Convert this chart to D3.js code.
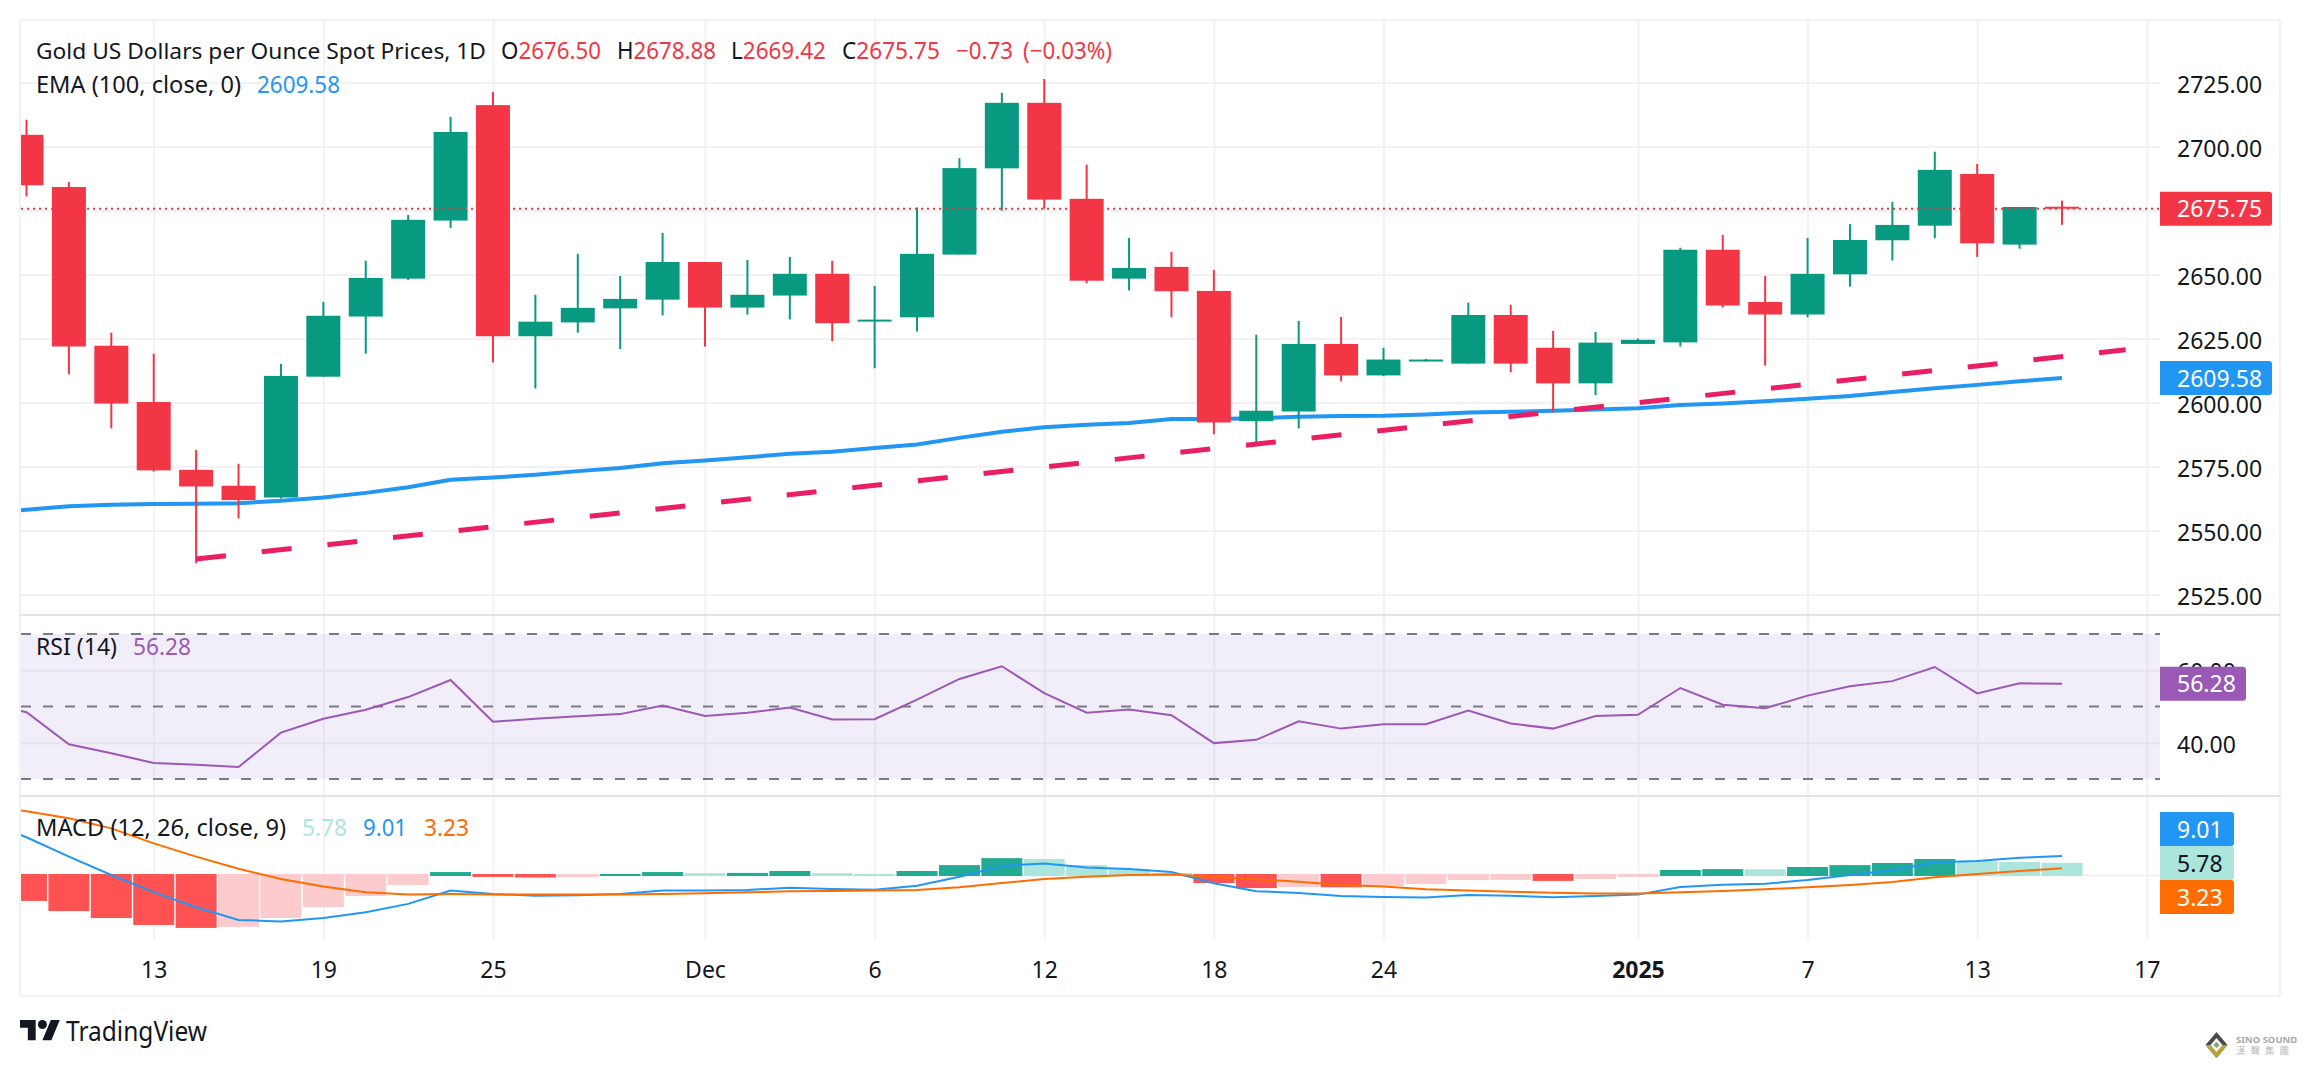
<!DOCTYPE html>
<html>
<head>
<meta charset="utf-8">
<script src="https://cdnjs.cloudflare.com/ajax/libs/d3/7.8.5/d3.min.js"></script>
<style>
	html, body { margin: 0; padding: 0; background: #fff; }
	svg { display: block; }
	text { font-family: "Noto Sans", sans-serif; }
</style>
</head>
<body>
<div id="chart"></div>
<script>
// candles, one per trading day (8 Nov 2024 - 15 Jan 2025)
var opens = [2704.6,2684.2,2622.2,2600.2,2573.7,2567.5,2562.9,2610.1,2633.6,2648.4,2671.1,2716.2,2625.9,2631.3,2636.8,2640.2,2654.9,2637.1,2641.8,2650.3,2631.7,2633.3,2657.8,2691.5,2717.1,2679.6,2648.4,2653,2643.6,2592.7,2596.5,2622.9,2610.6,2616.3,2615.2,2634.2,2621.4,2607.5,2622.9,2623.5,2659.7,2639.3,2634.4,2650.1,2663.4,2669.1,2689.3,2661.7,2676.5];
var highs = [2710.5,2686.2,2627.3,2619.1,2581.5,2576.1,2615.1,2639.3,2655.4,2673.3,2711.6,2721.3,2642.1,2658.1,2649.5,2666.3,2654.9,2655.7,2656.9,2655.4,2645.6,2676.2,2695.5,2721,2726.4,2692.9,2664.3,2658.9,2651.8,2626.5,2631.9,2633.4,2621.4,2617,2639,2638.2,2628,2627.6,2625,2660.5,2665.5,2649.5,2664.3,2669.7,2678.4,2698,2693.2,2676.4,2678.88];
var lows = [2680.5,2611,2589.9,2573,2537.2,2554.7,2562.5,2610,2619.1,2647.9,2668.2,2615.7,2605.5,2627.3,2620.9,2634,2621.9,2634.4,2632.5,2623.9,2613.4,2627.7,2657.8,2675,2675.7,2646.6,2643.8,2633.3,2587.6,2583.6,2589.9,2608.3,2610.3,2616,2615.2,2611.8,2596.2,2602.9,2622.9,2621.9,2637.1,2614.4,2633.3,2645.3,2655.5,2664.2,2656.9,2660.1,2669.42];
var closes = [2684.9,2621.9,2599.6,2573.5,2567.2,2561.9,2610.4,2633.9,2648.7,2671.4,2705.7,2625.9,2631.6,2637,2640.5,2654.9,2637.1,2642.1,2650.3,2631,2632.4,2658.1,2691.6,2717.1,2679.3,2647.6,2652.6,2643.5,2592.2,2596.8,2622.9,2610.6,2616.8,2616.8,2634.2,2615.2,2607.5,2623.4,2624.5,2659.7,2637.9,2634.4,2650.3,2663.5,2669.4,2690.9,2662.2,2676.4,2675.75];

// the line series start one bar before the first candle, that bar falls off the left edge
var ema = [2556.7,2558.1,2559.5,2560.1,2560.4,2560.5,2560.7,2561.6,2562.9,2564.7,2566.9,2569.8,2570.7,2571.8,2573.2,2574.4,2576.3,2577.4,2578.6,2580,2580.8,2582.2,2583.6,2586.2,2588.6,2590.3,2591.3,2592,2593.6,2593.6,2593.9,2594.4,2594.7,2594.8,2595.3,2596.1,2596.4,2596.8,2597.3,2597.8,2599,2599.6,2600.5,2601.5,2602.6,2604.1,2605.6,2606.9,2608.3,2609.58];
var rsi = [51,48.4,39.6,37.1,34.4,33.9,33.3,42.8,46.6,49.1,52.6,57.3,45.8,46.6,47.3,47.9,50.3,47.4,48.3,49.7,46.4,46.5,51.9,57.6,61.1,53.7,48.3,49.2,47.6,39.9,40.8,45.9,43.9,45.1,45.1,48.9,45.3,43.9,47.4,47.7,55.1,50.5,49.5,53,55.6,57,60.9,53.6,56.4,56.28];
var macd = [25.7,17.9,8.7,0,-8.1,-15.3,-21.3,-22,-20.4,-17.7,-13.7,-7.4,-9,-9.8,-9.6,-9,-7.4,-7.4,-7.1,-6,-6.6,-7,-5.1,-0.8,4.3,5.5,3.6,2.8,1.4,-3.9,-7.7,-8.5,-10,-10.4,-10.7,-9.5,-9.8,-10.6,-10,-9.3,-5.7,-4.6,-4.1,-2.4,0,2.2,6,6.6,8.2,9.01];
var signal = [33.4,30.2,26.9,22.1,15,8.7,3,-1.9,-5.5,-8.2,-9.2,-9,-9.2,-9.3,-9.3,-9.2,-9,-8.7,-8.2,-7.7,-7.6,-7.4,-7.1,-5.8,-3.8,-1.9,-0.8,0,0.2,-0.8,-2,-3.2,-4.7,-5.5,-6.8,-7.3,-7.9,-8.4,-8.8,-8.8,-8.2,-7.6,-6.8,-5.8,-4.7,-3.3,-1.1,0.5,1.9,3.23];
var hist = [-12.3,-17.1,-20.4,-23.7,-25.1,-24.6,-20.4,-15.2,-10,-4.7,1.4,-0.9,-1.2,-1,0.5,1.4,0.9,1,1.9,0.9,0.5,1.9,4.7,8,7.6,4.7,2.8,1,-3.8,-6.2,-5.7,-5.8,-5.2,-4.3,-2.4,-2.3,-2.8,-1.9,-0.9,2.4,2.8,2.7,3.8,4.7,5.7,7.6,6.6,6.2,5.78];

// trend line, bar index and price at both ends
var trendBars = [4, 49.5];
var trendPrices = [2538.9, 2620.6];

var priceTicks = [2525,2550,2575,2600,2625,2650,2675,2700,2725];
var rsiTicks = [40,60];
var rsiLevels = [30,50,70];
var timeTicks = [3,7,11,16,20,24,28,32,38,42,46,50];
var timeLabels = ['13','19','25','Dec','6','12','18','24','2025','7','13','17'];

var UP = '#089981', DOWN = '#F23645', INK = '#131722', GRID = '#F2F2F4', LINE = '#E0E3EB';
var PLOT_L = 21, PLOT_R = 2160, OUT_R = 2280;

var svg = d3.select('#chart').append('svg').attr('width', 2304).attr('height', 1066);

var x = d3.scaleLinear().domain([0, 48]).range([26.5, 2062]);
var yPrice = d3.scaleLinear().domain([2525, 2725]).range([594.5, 82.6]);
var yRsi = d3.scaleLinear().domain([30, 70]).range([779, 634]);
var yMacd = d3.scaleLinear().domain([0, 9.01]).range([875, 856]);

var defs = svg.append('defs');
function clip(id, top, bottom) {
	defs.append('clipPath').attr('id', id).append('rect')
		.attr('x', PLOT_L).attr('y', top).attr('width', PLOT_R - PLOT_L).attr('height', bottom - top);
}
clip('clip-main', 21, 614);
clip('clip-rsi', 616, 795);
clip('clip-macd', 797, 940);

// frame and separators
svg.append('rect').attr('x', 20).attr('y', 20).attr('width', OUT_R - 20).attr('height', 976)
	.attr('fill', 'none').attr('stroke', GRID).attr('stroke-width', 2);

// grid lines, all from axes
function hGrid(scale, ticks) {
	var g = svg.append('g').attr('transform', 'translate(' + PLOT_R + ',0)')
		.call(d3.axisLeft(scale).tickValues(ticks).tickSize(PLOT_R - PLOT_L).tickFormat(''));
	g.select('.domain').remove();
	g.selectAll('line').attr('stroke', GRID).attr('stroke-width', 2);
}
var vg = svg.append('g').attr('transform', 'translate(0,940)')
	.call(d3.axisBottom(x).tickValues(timeTicks).tickSize(-919).tickFormat(''));
vg.select('.domain').remove();
vg.selectAll('line').attr('stroke', GRID).attr('stroke-width', 2);
hGrid(yPrice, priceTicks);
hGrid(yRsi, rsiTicks);
hGrid(yMacd, [0]);

[615, 796].forEach(function (y) {
	svg.append('line').attr('x1', 20).attr('x2', OUT_R).attr('y1', y).attr('y2', y)
		.attr('stroke', LINE).attr('stroke-width', 2);
});

//main pane
var main = svg.append('g').attr('clip-path', 'url(#clip-main)');

var emaLine = d3.line().x(function (d, i) { return x(i - 1); }).y(function (d) { return yPrice(d); });
main.append('path').attr('d', emaLine(ema)).attr('fill', 'none').attr('stroke', '#2196F3').attr('stroke-width', 4);

var bars = main.selectAll('g.candle').data(opens).enter().append('g').attr('class', 'candle');
function candleColor(d, i) { return closes[i] >= opens[i] ? UP : DOWN; }
bars.append('rect')
	.attr('x', function (d, i) { return x(i) - 1; })
	.attr('width', 2)
	.attr('y', function (d, i) { return yPrice(highs[i]); })
	.attr('height', function (d, i) { return yPrice(lows[i]) - yPrice(highs[i]); })
	.attr('fill', candleColor);
bars.append('rect')
	.attr('x', function (d, i) { return x(i) - 17; })
	.attr('width', 34)
	.attr('y', function (d, i) { return yPrice(Math.max(opens[i], closes[i])); })
	.attr('height', function (d, i) { return Math.max(2, Math.abs(yPrice(opens[i]) - yPrice(closes[i]))); })
	.attr('fill', candleColor);

main.append('line')
	.attr('x1', x(trendBars[0])).attr('x2', x(trendBars[1]))
	.attr('y1', yPrice(trendPrices[0])).attr('y2', yPrice(trendPrices[1]))
	.attr('stroke', '#E91E63').attr('stroke-width', 5).attr('stroke-dasharray', '30 36');

main.append('line')
	.attr('x1', PLOT_L).attr('x2', PLOT_R)
	.attr('y1', yPrice(closes[48])).attr('y2', yPrice(closes[48]))
	.attr('stroke', DOWN).attr('stroke-width', 2).attr('stroke-dasharray', '2 4');

//rsi pane
var rsiPane = svg.append('g').attr('clip-path', 'url(#clip-rsi)');
rsiPane.append('rect').attr('x', PLOT_L).attr('width', PLOT_R - PLOT_L)
	.attr('y', yRsi(70)).attr('height', yRsi(30) - yRsi(70))
	.attr('fill', 'rgba(126,87,194,0.1)');
rsiPane.selectAll('line.level').data(rsiLevels).enter().append('line').attr('class', 'level')
	.attr('x1', PLOT_L).attr('x2', PLOT_R)
	.attr('y1', function (d) { return yRsi(d); }).attr('y2', function (d) { return yRsi(d); })
	.attr('stroke', '#787B86').attr('stroke-width', 2).attr('stroke-dasharray', '10 12');
var rsiLine = d3.line().x(function (d, i) { return x(i - 1); }).y(function (d) { return yRsi(d); });
rsiPane.append('path').attr('d', rsiLine(rsi)).attr('fill', 'none').attr('stroke', '#9B59B6').attr('stroke-width', 2);

//macd pane
var macdPane = svg.append('g').attr('clip-path', 'url(#clip-macd)');

// shade follows the direction of the bar: growing = strong colour, shrinking = light colour
function histColor(d, i) {
	var growing = i === 0 || (d >= 0 ? d > hist[i - 1] : d < hist[i - 1]);
	if (d >= 0) return growing ? '#22AB94' : '#ACE5DC';
	return growing ? '#FF5252' : '#FCCBCD';
}
macdPane.selectAll('rect.hist').data(hist).enter().append('rect').attr('class', 'hist')
	.attr('x', function (d, i) { return x(i) - 20.5; })
	.attr('width', 41)
	.attr('y', function (d) { return d >= 0 ? yMacd(d) : yMacd(0) - 1; })
	.attr('height', function (d) { return Math.abs(yMacd(d) - yMacd(0)) + 1; })
	.attr('fill', histColor);

function macdLine(vals, color) {
	var l = d3.line().x(function (d, i) { return x(i - 1); }).y(function (d) { return yMacd(d); });
	macdPane.append('path').attr('d', l(vals)).attr('fill', 'none').attr('stroke', color).attr('stroke-width', 2);
}
macdLine(macd, '#2196F3');
macdLine(signal, '#FF6D00');

//axes labels
function valueAxis(scale, ticks) {
	var g = svg.append('g').attr('transform', 'translate(' + PLOT_R + ',0)')
		.call(d3.axisRight(scale).tickValues(ticks).tickSize(0).tickPadding(17).tickFormat(d3.format('.2f')));
	g.select('.domain').remove();
	g.selectAll('text').attr('fill', INK).attr('dy', '0.42em').style('font-size', '23px');
}
valueAxis(yPrice, priceTicks);
valueAxis(yRsi, rsiTicks);

var timeAxis = svg.append('g').attr('transform', 'translate(0,962)')
	.call(d3.axisBottom(x).tickValues(timeTicks).tickSize(0).tickPadding(0)
		.tickFormat(function (d, i) { return timeLabels[i]; }));
timeAxis.select('.domain').remove();
timeAxis.selectAll('text').attr('fill', INK).style('font-size', '23px')
	.style('font-weight', function (d, i) { return timeLabels[i] === '2025' ? 700 : 400; });

//value badges on the right side
function badge(top, bottom, right, fill, label, color) {
	var r = 3, p = d3.path();
	p.moveTo(PLOT_R, top);
	p.lineTo(right - r, top);
	p.quadraticCurveTo(right, top, right, top + r);
	p.lineTo(right, bottom - r);
	p.quadraticCurveTo(right, bottom, right - r, bottom);
	p.lineTo(PLOT_R, bottom);
	p.closePath();
	svg.append('path').attr('d', p.toString()).attr('fill', fill);
	svg.append('text').attr('x', PLOT_R + 17).attr('y', (top + bottom) / 2 + 8.5)
		.attr('fill', color).style('font-size', '23px').text(label);
}
badge(yPrice(closes[48]) - 17, yPrice(closes[48]) + 17, 2272, DOWN, '2675.75', '#fff');
badge(yPrice(2609.58) - 17, yPrice(2609.58) + 17, 2272, '#2196F3', '2609.58', '#fff');
badge(yRsi(56.28) - 17, yRsi(56.28) + 17, 2246, '#9B59B6', '56.28', '#fff');
badge(812, 846, 2234, '#2196F3', '9.01', '#fff');
badge(846, 880, 2234, '#ACE5DC', '5.78', INK);
badge(880, 914, 2234, '#FF6D00', '3.23', '#fff');

//legend text, width fitted to the reference
function legend(x0, x1, y, str, color) {
	return svg.append('text').attr('x', x0).attr('y', y).attr('fill', color)
		.attr('textLength', x1 - x0).attr('lengthAdjust', 'spacingAndGlyphs')
		.style('font-size', '24px').text(str);
}
// O H L C: letter and value share one text element
function ohlc(x0, x1, letter, value) {
	var t = legend(x0, x1, 59, letter, INK);
	t.append('tspan').attr('fill', DOWN).text(value);
}
legend(36, 486, 59, 'Gold US Dollars per Ounce Spot Prices, 1D', INK).style('font-size', '22.5px');
ohlc(501, 601, 'O', '2676.50');
ohlc(617, 716, 'H', '2678.88');
ohlc(731, 826, 'L', '2669.42');
ohlc(842, 940, 'C', '2675.75');
legend(956, 1013, 59, '\u22120.73', DOWN);
legend(1023, 1112, 59, '(\u22120.03%)', DOWN);
legend(36, 241, 93, 'EMA (100, close, 0)', INK);
legend(257, 340, 93, '2609.58', '#2196F3');
legend(36, 117, 655, 'RSI (14)', INK);
legend(133, 191, 655, '56.28', '#9B59B6');
legend(36, 286, 836, 'MACD (12, 26, close, 9)', INK);
legend(302, 347, 836, '5.78', '#ACE5DC');
legend(363, 407, 836, '9.01', '#2196F3');
legend(424, 469, 836, '3.23', '#FF6D00');

//tradingview logo
var logo = svg.append('g').attr('transform', 'translate(20,1015.5) scale(1.12)').attr('fill', INK);
logo.append('path').attr('d', 'M14 22H7V11H0V4h14v18zM28 22h-8l7.5-18h8L28 22z');
logo.append('circle').attr('cx', 20).attr('cy', 8).attr('r', 4);
svg.append('text').attr('x', 66).attr('y', 1041).attr('fill', INK)
	.attr('textLength', 141).attr('lengthAdjust', 'spacingAndGlyphs')
	.style('font-size', '28px').text('TradingView');

//watermark
var mark = svg.append('g').attr('transform', 'translate(2216.5,1045)');
mark.append('polygon').attr('points', '0,-13 11,0 0,13 -11,0').attr('fill', '#4a4a4a');
mark.append('polygon').attr('points', '11,0 0,13 -11,0 -5,0 0,6 5,0').attr('fill', '#b9a33a');
mark.append('polygon').attr('points', '0,-7 6,0 0,7 -6,0').attr('fill', '#f4f4f4');
mark.append('polygon').attr('points', '0,-3 3,0 0,3 -3,0').attr('fill', '#7da86a');
svg.append('text').attr('x', 2236).attr('y', 1043).attr('fill', '#a8a8a8')
	.style('font-size', '9.5px').style('font-weight', 700).text('SINO SOUND');
svg.append('text').attr('x', 2236).attr('y', 1053.5).attr('fill', '#b8b8b8')
	.style('font-family', '"Noto Sans CJK TC"').style('font-size', '9.5px').style('letter-spacing', '5px').text('漢聲集團');
</script>
</body>
</html>
